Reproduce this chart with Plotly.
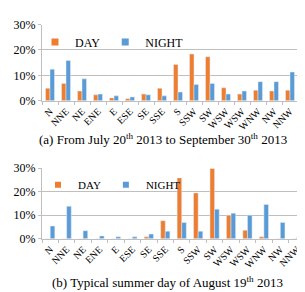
import plotly.graph_objects as go

directions = ["N", "NNE", "NE", "ENE", "E", "ESE", "SE", "SSE",
              "S", "SSW", "SW", "WSW", "WSW", "WNW", "NW", "NNW"]

day_a = [4.9, 6.8, 3.8, 2.3, 1.1, 0.8, 2.6, 4.9, 14.3, 18.4, 17.3, 5.1, 2.6, 4.1, 3.8, 4.1]
night_a = [12.4, 15.8, 8.6, 2.6, 1.9, 1.5, 2.3, 1.9, 3.4, 6.4, 6.8, 2.6, 3.8, 7.5, 7.5, 11.3]

day_b = [0.0, 0.0, 0.0, 0.0, 0.0, 0.0, 0.8, 7.7, 25.9, 19.5, 29.9, 10.0, 3.6, 0.8, 0.0, 0.0]
night_b = [5.4, 13.8, 3.4, 1.2, 0.8, 0.8, 2.0, 3.2, 6.9, 3.2, 12.6, 10.9, 10.0, 14.6, 6.9, 0.8]

y_ticks = [0, 10, 20, 30]
y_labels = ["0%", "10%", "20%", "30%"]

ORANGE = "#ED7D31"
BLUE = "#5B9BD5"
FONT = "Liberation Serif, Times New Roman, serif"
GRID = "#BFBFBF"

xs = list(range(len(directions)))

fig = go.Figure()
fig.add_trace(go.Bar(x=xs, y=day_a, name="DAY", marker_color=ORANGE, xaxis="x", yaxis="y", showlegend=False))
fig.add_trace(go.Bar(x=xs, y=night_a, name="NIGHT", marker_color=BLUE, xaxis="x", yaxis="y", showlegend=False))
fig.add_trace(go.Bar(x=xs, y=day_b, name="DAY", marker_color=ORANGE, xaxis="x2", yaxis="y2", showlegend=False))
fig.add_trace(go.Bar(x=xs, y=night_b, name="NIGHT", marker_color=BLUE, xaxis="x2", yaxis="y2", showlegend=False))

# legend entries (square swatches like the reference)
for name, col, lg, ax, sz in [("DAY", ORANGE, "legend", "", 7), ("NIGHT", BLUE, "legend", "", 7),
                              ("DAY", ORANGE, "legend2", "2", 6), ("NIGHT", BLUE, "legend2", "2", 6)]:
    fig.add_trace(go.Scatter(x=[None], y=[None], mode="markers", name=name,
                             marker=dict(symbol="square", size=sz, color=col),
                             xaxis="x" + ax, yaxis="y" + ax, legend=lg, showlegend=True))

W, H = 305, 292

def xd(l, r):
    return [l / W, r / W]

def yd(top, bottom):
    return [1 - bottom / H, 1 - top / H]

xaxis_common = dict(
    tickmode="array", tickvals=xs, ticktext=directions, tickangle=-45,
    range=[-0.5, len(directions) - 0.5],
    showline=True, linecolor=GRID, linewidth=1, ticks="",
    showgrid=False, zeroline=False,
    tickfont=dict(family=FONT, size=10, color="#000"),
    minor=dict(tickvals=[i - 0.5 for i in range(len(directions) + 1)], ticks="outside", ticklen=3, tickcolor=GRID, showgrid=False),
)
yaxis_common = dict(
    range=[0, 30], tickmode="array", tickvals=y_ticks, ticktext=y_labels,
    showline=True, linecolor=GRID, linewidth=1, ticks="outside", ticklen=3, tickcolor=GRID,
    showgrid=True, gridcolor=GRID, gridwidth=1, zeroline=False,
    tickfont=dict(family=FONT, size=12, color="#000"),
)

fig.update_layout(
    width=W, height=H,
    margin=dict(l=0, r=0, t=0, b=0),
    paper_bgcolor="white", plot_bgcolor="white",
    barmode="group", bargap=0.44, bargroupgap=0,
    font=dict(family=FONT, color="#000"),
    xaxis=dict(domain=xd(34, 290), anchor="y", **xaxis_common),
    yaxis=dict(domain=yd(10, 90), anchor="x", **yaxis_common),
    xaxis2=dict(domain=xd(34, 297), anchor="y2", **xaxis_common),
    yaxis2=dict(domain=yd(161, 235), anchor="x2", **yaxis_common),
    legend=dict(orientation="h", x=27 / W, y=1 - 13 / H, xanchor="left", yanchor="top",
                font=dict(family=FONT, size=12), bgcolor="rgba(0,0,0,0)", itemwidth=30,
                traceorder="normal", tracegroupgap=0),
    legend2=dict(orientation="h", x=30 / W, y=1 - 163 / H, xanchor="left", yanchor="top",
                 font=dict(family=FONT, size=11), bgcolor="rgba(0,0,0,0)", itemwidth=30,
                 traceorder="normal", tracegroupgap=0),
    annotations=[
        dict(text="(a) From July 20<sup>th</sup> 2013 to September 30<sup>th</sup> 2013",
             x=155 / W, y=1 - 130 / H, xref="paper", yref="paper", xanchor="center", yanchor="middle",
             showarrow=False, font=dict(family=FONT, size=13, color="#000")),
        dict(text="(b) Typical summer day of August 19<sup>th</sup> 2013",
             x=159 / W, y=1 - 280 / H, xref="paper", yref="paper", xanchor="center", yanchor="middle",
             showarrow=False, font=dict(family=FONT, size=13, color="#000")),
    ],
)

fig.write_html("out.html")
